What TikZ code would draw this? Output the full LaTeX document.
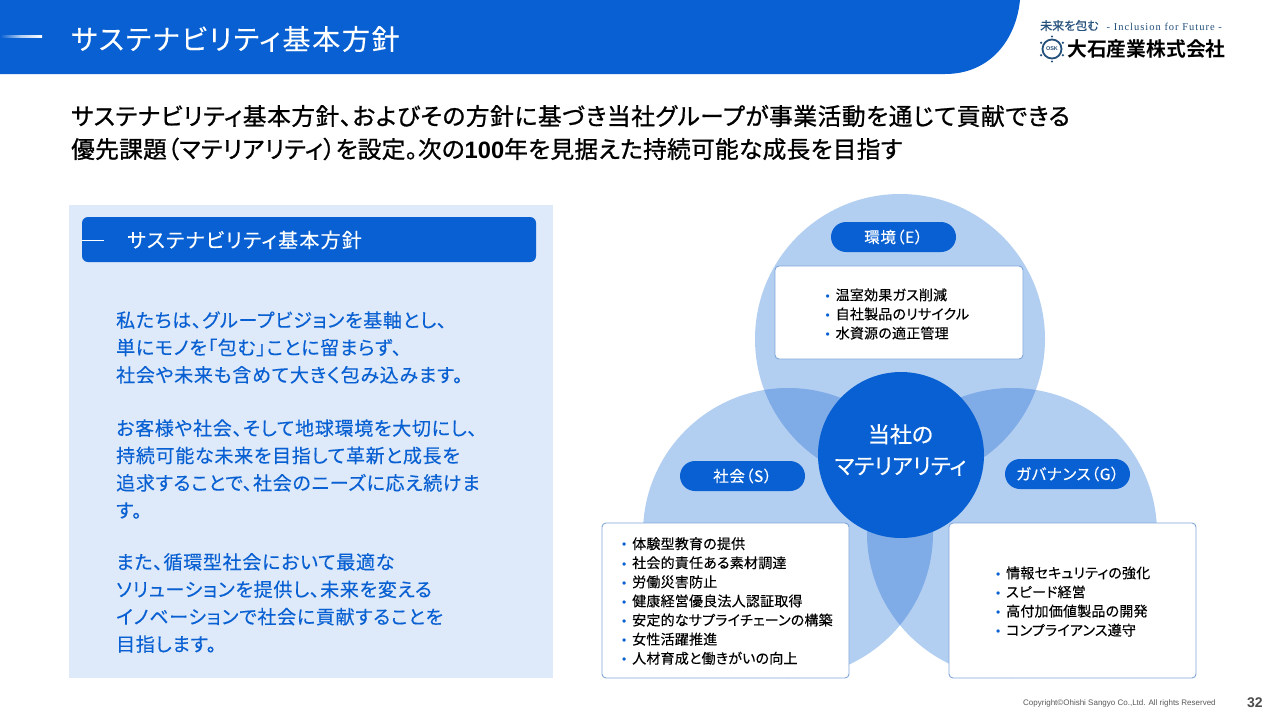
\documentclass[tikz,border=0pt]{standalone}
\usepackage{fontspec}
\setmainfont{Noto Sans CJK JP}
\newfontfamily\jpm[RawFeature=+palt,FakeBold=0.25]{Noto Sans CJK JP}
\newfontfamily\jpcore[RawFeature=+palt,FakeBold=0.5]{Noto Sans CJK JP}
\newfontfamily\jpbody[RawFeature=+palt,FakeBold=0.25,LetterSpace=3.8]{Noto Sans CJK JP}
\newfontfamily\jphead[RawFeature=+palt,FakeBold=0.2,LetterSpace=6.3]{Noto Sans CJK JP}
\newfontfamily\jplist[RawFeature=+palt,FakeBold=0.25,LetterSpace=1.5]{Noto Sans CJK JP}
\newfontfamily\jppill[RawFeature=+palt,FakeBold=0.25,LetterSpace=4.5]{Noto Sans CJK JP}
\newfontfamily\jpleada[RawFeature=+palt,FakeBold=0.9,LetterSpace=2.5]{Noto Sans CJK JP}
\newfontfamily\jpleadb[RawFeature=+palt,FakeBold=0.9,LetterSpace=1.25]{Noto Sans CJK JP}
\newfontfamily\jpb[RawFeature=+palt]{Noto Sans CJK JP Bold}
\newfontfamily\lsans{Liberation Sans}
\newfontfamily\lserif[LetterSpace=9.5]{Liberation Serif}
\definecolor{mainblue}{HTML}{0860D2}
\definecolor{panelblue}{HTML}{DEE9F9}
\definecolor{circleblue}{HTML}{B2CFF2}
\definecolor{overlapblue}{HTML}{7FABE6}
\definecolor{boxedge}{HTML}{7FA6DA}
\definecolor{logonavy}{HTML}{24507C}
\newcommand{\fs}[1]{\fontsize{#1}{#1}\selectfont}
\newcommand{\fsl}[2]{\fontsize{#1}{#2}\selectfont}
\newcommand{\itm}[1]{\makebox[12pt][l]{\hspace{2pt}\textcolor{mainblue}{\lsans\fs{12}•}}#1}
\usetikzlibrary{shapes.misc}
\tikzset{
  circ/.style={circle,fill=circleblue,minimum size=290pt,inner sep=0pt},
  pill/.style={rounded rectangle,fill=mainblue,text=white,minimum width=125pt,minimum height=30pt,inner sep=0pt,font=\jppill\fs{15.5}},
  listbox/.style={draw=boxedge,line width=0.9pt,fill=white,rounded corners=4pt},
  listtext/.style={anchor=west,align=left,inner sep=0pt,font=\jplist\fsl{14}{19.1}},
  bodytext/.style={anchor=west,align=left,inner sep=0pt,text=mainblue,font=\jpbody\fsl{19}{27.4}},
}
\begin{document}
\begin{tikzpicture}[x=1pt,y=-1pt]
\useasboundingbox (0,0) rectangle (1280,721);
\fill[white] (0,0) rectangle (1280,721);
% header band
\fill[mainblue] (0,0) -- (1020,0) .. controls (1016,40) and (990,74) .. (945,74) -- (0,74) -- cycle;
\shade[left color=mainblue,right color=white,middle color=white!70!mainblue] (0,35.5) rectangle (42,37);
\node[anchor=west,inner sep=0pt,text=white,font=\jphead\fs{28}] (title) at (71,39) {サステナビリティ基本方針};
% logo
\node[anchor=west,inner sep=0pt,text=logonavy,font=\jpm\fs{12}] (tag1) at (1040,25.5) {未来を包む};
\node[anchor=west,inner sep=0pt,text=logonavy,font=\lserif\fs{10.5}] (tag2) at (1106.5,26.5) {- Inclusion for Future -};
\foreach \a in {30,90,...,330}{\fill[logonavy] (1052,49) ++(\a:12.5pt) circle[radius=1.2pt];}
\node[circle,draw=logonavy,line width=1.8pt,minimum size=19pt,inner sep=0pt,text=logonavy,font=\lsans\bfseries\fs{5.5}] (emblem) at (1052,49) {OSK};
\node[anchor=west,inner sep=0pt,text=black,font=\jpb\fs{19.8}] (company) at (1067,49) {大石産業株式会社};
% lead
\node[anchor=west,inner sep=0pt,text=black,font=\jpleada\fs{23.7}] (lead1) at (71,116) {サステナビリティ基本方針、およびその方針に基づき当社グループが事業活動を通じて貢献できる};
\node[anchor=west,inner sep=0pt,text=black,font=\jpleadb\fs{23.7}] (lead2) at (71,149) {優先課題（マテリアリティ）を設定。次の{\lsans\bfseries 100}年を見据えた持続可能な成長を目指す};
% left panel
\fill[panelblue] (69,205) rectangle (553,678);
\fill[mainblue,rounded corners=6pt] (82,217) rectangle (536,262);
\draw[white,line width=0.9pt] (82,240) -- (104,240);
\node[anchor=west,inner sep=0pt,text=white,font=\jphead\fs{20}] (panelhead) at (127,240) {サステナビリティ基本方針};
\node[bodytext] (p1) at (116,347.5) {私たちは、グループビジョンを基軸とし、\\単にモノを「包む」ことに留まらず、\\社会や未来も含めて大きく包み込みます。};
\node[bodytext] (p2) at (116,469) {お客様や社会、そして地球環境を大切にし、\\持続可能な未来を目指して革新と成長を\\追求することで、社会のニーズに応え続けま\\す。};
\node[bodytext] (p3) at (116,603) {また、循環型社会において最適な\\ソリューションを提供し、未来を変える\\イノベーションで社会に貢献することを\\目指します。};
% circles
\node[circ] (ce) at (900,339) {};
\node[circ] (cs) at (788,533) {};
\node[circ] (cg) at (1012,533) {};
\begin{scope}
\clip (900,339) circle[radius=145pt];
\fill[overlapblue] (788,533) circle[radius=145pt];
\fill[overlapblue] (1012,533) circle[radius=145pt];
\end{scope}
\begin{scope}
\clip (788,533) circle[radius=145pt];
\fill[overlapblue] (1012,533) circle[radius=145pt];
\end{scope}
\node[circle,fill=mainblue,minimum size=166pt,inner sep=0pt] (core) at (901,455) {};
\node[inner sep=0pt,text=white,align=center,font=\jpcore\fsl{22}{31.5}] (coretext) at (900.5,450) {当社の\\マテリアリティ};
% pills
\node[pill] (pe) at (893.5,237) {環境（E）};
\node[pill] (ps) at (742.5,476) {社会（S）};
\node[pill] (pg) at (1067.5,474) {ガバナンス（G）};
% boxes
\draw[listbox] (775,266) rectangle (1023,359);
\draw[listbox] (602,523) rectangle (849,678);
\draw[listbox] (949,523) rectangle (1196,678);
\node[listtext] (le) at (823.5,314) {\itm{温室効果ガス削減}\\\itm{自社製品のリサイクル}\\\itm{水資源の適正管理}};
\node[listtext] (ls) at (620,601) {\itm{体験型教育の提供}\\\itm{社会的責任ある素材調達}\\\itm{労働災害防止}\\\itm{健康経営優良法人認証取得}\\\itm{安定的なサプライチェーンの構築}\\\itm{女性活躍推進}\\\itm{人材育成と働きがいの向上}};
\node[listtext] (lg) at (994,601.5) {\itm{情報セキュリティの強化}\\\itm{スピード経営}\\\itm{高付加価値製品の開発}\\\itm{コンプライアンス遵守}};
% footer
\node[anchor=west,inner sep=0pt,text=black!65,font=\lsans\fs{8}] (copy) at (1023,703.5) {Copyright©Ohishi Sangyo Co.,Ltd. All rights Reserved};
\node[anchor=west,inner sep=0pt,text=black!70,font=\lsans\bfseries\fs{14}] (pageno) at (1247,703) {32};
\end{tikzpicture}
\end{document}
